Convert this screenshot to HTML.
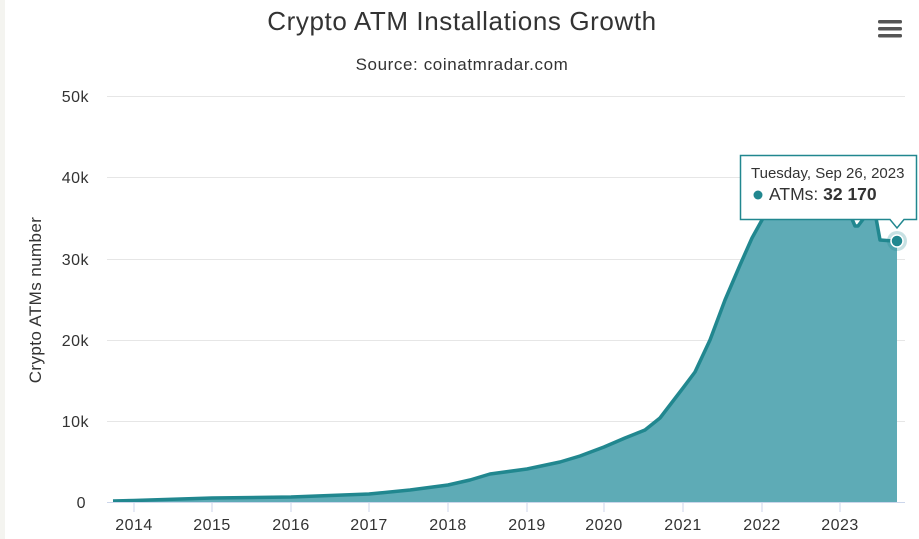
<!DOCTYPE html>
<html><head><meta charset="utf-8"><style>
body{margin:0;background:#fff;}
svg{display:block;font-family:"Liberation Sans","DejaVu Sans",sans-serif;}
</style></head><body>
<svg width="919" height="539" viewBox="0 0 919 539">
<rect x="0" y="0" width="5" height="539" fill="#f4f4f0"/>
<text x="462" y="30" text-anchor="middle" font-size="26" letter-spacing="0.6" fill="#333">Crypto ATM Installations Growth</text>
<text x="462" y="70" text-anchor="middle" font-size="17" letter-spacing="0.6" fill="#333">Source: coinatmradar.com</text>
<g fill="#555"><rect x="878" y="20" width="24" height="3.5" rx="1.5"/><rect x="878" y="27" width="24" height="3.5" rx="1.5"/><rect x="878" y="34" width="24" height="3.5" rx="1.5"/></g>
<g stroke="#e6e6e6" stroke-width="1">
<line x1="107" x2="905" y1="96.5" y2="96.5"/><line x1="107" x2="905" y1="177.5" y2="177.5"/><line x1="107" x2="905" y1="259.5" y2="259.5"/><line x1="107" x2="905" y1="340.5" y2="340.5"/><line x1="107" x2="905" y1="421.5" y2="421.5"/>
</g>
<g font-size="16" fill="#333" text-anchor="end" letter-spacing="0.5">
<text x="89" y="102">50k</text><text x="89" y="183">40k</text><text x="89" y="265">30k</text><text x="89" y="346">20k</text><text x="89" y="427">10k</text><text x="86" y="508">0</text>
</g>
<text transform="translate(41,300) rotate(-90)" text-anchor="middle" font-size="17" letter-spacing="0.4" fill="#333">Crypto ATMs number</text>
<path d="M113,502 L113,501 L134,500.5 L212,498 L291,497 L369,494 L410,490 L448,485 L470,480 L490,474 L527,469 L560,462 L580,456 L604,447 L625,438 L645,430 L660,418 L683,388 L695,372 L710,340 L725,300 L740,265 L752,238 L762,220 L775,195 L800,180 L830,175 L850,205 L852,219 L855,226 L858,226 L864,218 L876,218 L880,240 L893,241 L897,241 L897,502 Z" fill="#5eabb6"/>
<path d="M113,501 L134,500.5 L212,498 L291,497 L369,494 L410,490 L448,485 L470,480 L490,474 L527,469 L560,462 L580,456 L604,447 L625,438 L645,430 L660,418 L683,388 L695,372 L710,340 L725,300 L740,265 L752,238 L762,220 L775,195 L800,180 L830,175 L850,205 L852,219 L855,226 L858,226 L864,218 L876,218 L880,240 L893,241 L897,241" fill="none" stroke="#21878f" stroke-width="3.5" stroke-linejoin="round"/>
<line x1="107" x2="905" y1="502.5" y2="502.5" stroke="#ccd6eb"/>
<g stroke="#ccd6eb"><line x1="134" x2="134" y1="502" y2="512"/><line x1="212" x2="212" y1="502" y2="512"/><line x1="291" x2="291" y1="502" y2="512"/><line x1="369" x2="369" y1="502" y2="512"/><line x1="448" x2="448" y1="502" y2="512"/><line x1="527" x2="527" y1="502" y2="512"/><line x1="604" x2="604" y1="502" y2="512"/><line x1="683" x2="683" y1="502" y2="512"/><line x1="762" x2="762" y1="502" y2="512"/><line x1="840" x2="840" y1="502" y2="512"/></g>
<g font-size="16" fill="#333" text-anchor="middle" letter-spacing="0.5">
<text x="134" y="530">2014</text><text x="212" y="530">2015</text><text x="291" y="530">2016</text><text x="369" y="530">2017</text><text x="448" y="530">2018</text><text x="527" y="530">2019</text><text x="604" y="530">2020</text><text x="683" y="530">2021</text><text x="762" y="530">2022</text><text x="840" y="530">2023</text>
</g>
<circle cx="897" cy="241" r="10" fill="#21878f" opacity="0.25"/>
<circle cx="897" cy="241" r="6" fill="#21878f" stroke="#fff" stroke-width="1.5"/>
<path d="M740.5,155.5 L916.5,155.5 L916.5,219.5 L904,219.5 L897,228 L890,219.5 L740.5,219.5 Z" fill="#fff" stroke="#21878f" stroke-width="1.5"/>
<text x="751" y="178" font-size="15" fill="#333">Tuesday, Sep 26, 2023</text>
<circle cx="758" cy="195" r="4.5" fill="#21878f"/>
<text x="769" y="200" font-size="17.5" fill="#333">ATMs: <tspan font-weight="bold">32 170</tspan></text>
</svg>
</body></html>
